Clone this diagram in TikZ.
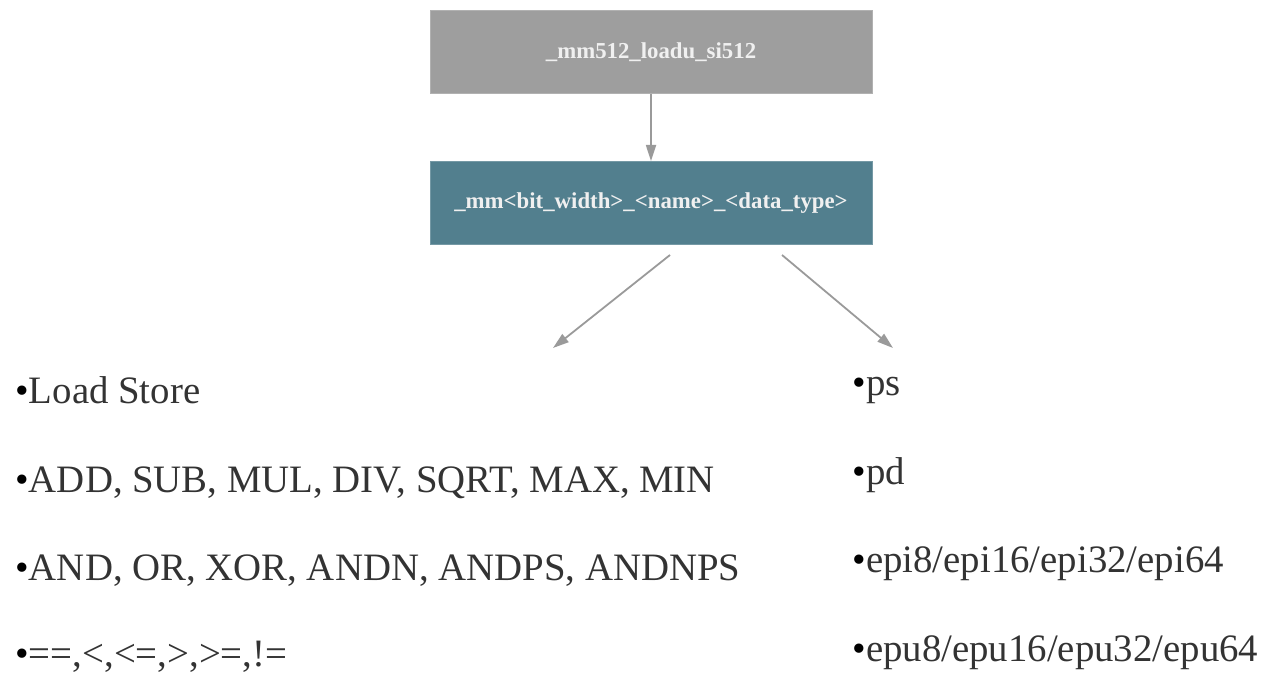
\documentclass[tikz,border=0pt]{standalone}
\usepackage{fontspec}
\setmainfont{Liberation Serif}
\usepackage{xcolor}
\usetikzlibrary{positioning, arrows.meta, calc}

\definecolor{boxgray}{HTML}{9E9E9E}
\definecolor{boxteal}{HTML}{527F8E}
\definecolor{txtdark}{HTML}{333333}
\definecolor{lnkgray}{HTML}{9A9A9A}

\begin{document}
\begin{tikzpicture}[
  x=0.5pt, y=0.5pt,
  >={Triangle[length=8pt,width=5pt]},
  block/.style={draw=#1!80!white, fill=#1, line width=0.5pt,
                minimum width=221pt, minimum height=41.5pt,
                text=white!94!black, font=\bfseries\fontsize{11.4}{13}\selectfont},
  link/.style={->, draw=lnkgray, line width=0.9pt},
  item/.style={anchor=base west, inner sep=0pt, text=txtdark,
               font=\fontsize{19.4}{22}\selectfont},
]
\useasboundingbox (0,0) rectangle (1288,691);

% Boxes
\node[block=boxgray] (load) at (651,639) {\_mm512\_loadu\_si512};
\node[block=boxteal] (fmt) at (651,488) {\_mm<bit\_width>\_<name>\_<data\_type>};

% List anchors
\coordinate (ltip) at (553,343);
\coordinate (rtip) at (893,343);

% Left column
\node[item] (ldst) at (15,288) {\textcolor{black}{•}Load Store};
\node[item] (arit) at (15,199) {\textcolor{black}{•}ADD, SUB, MUL, DIV, SQRT, MAX, MIN};
\node[item] (logi) at (15,111) {\textcolor{black}{•}AND, OR, XOR, ANDN, ANDPS, ANDNPS};
\node[item] (comp) at (15,25)  {\textcolor{black}{•}==,<,<=,>,>=,!=};

% Right column
\node[item] (ps)  at (852,296) {\textcolor{black}{•}ps};
\node[item] (pd)  at (852,207) {\textcolor{black}{•}pd};
\node[item] (epi) at (852,119) {\textcolor{black}{•}epi8/epi16/epi32/epi64};
\node[item] (epu) at (852,30)  {\textcolor{black}{•}epu8/epu16/epu32/epu64};

% Connectors
\draw[link] (load) -- (fmt);
\draw[link] ($(fmt.south)+(19,-10)$) -- (ltip);
\draw[link] ($(fmt.south)+(131,-10)$) -- (rtip);

\end{tikzpicture}
\end{document}
